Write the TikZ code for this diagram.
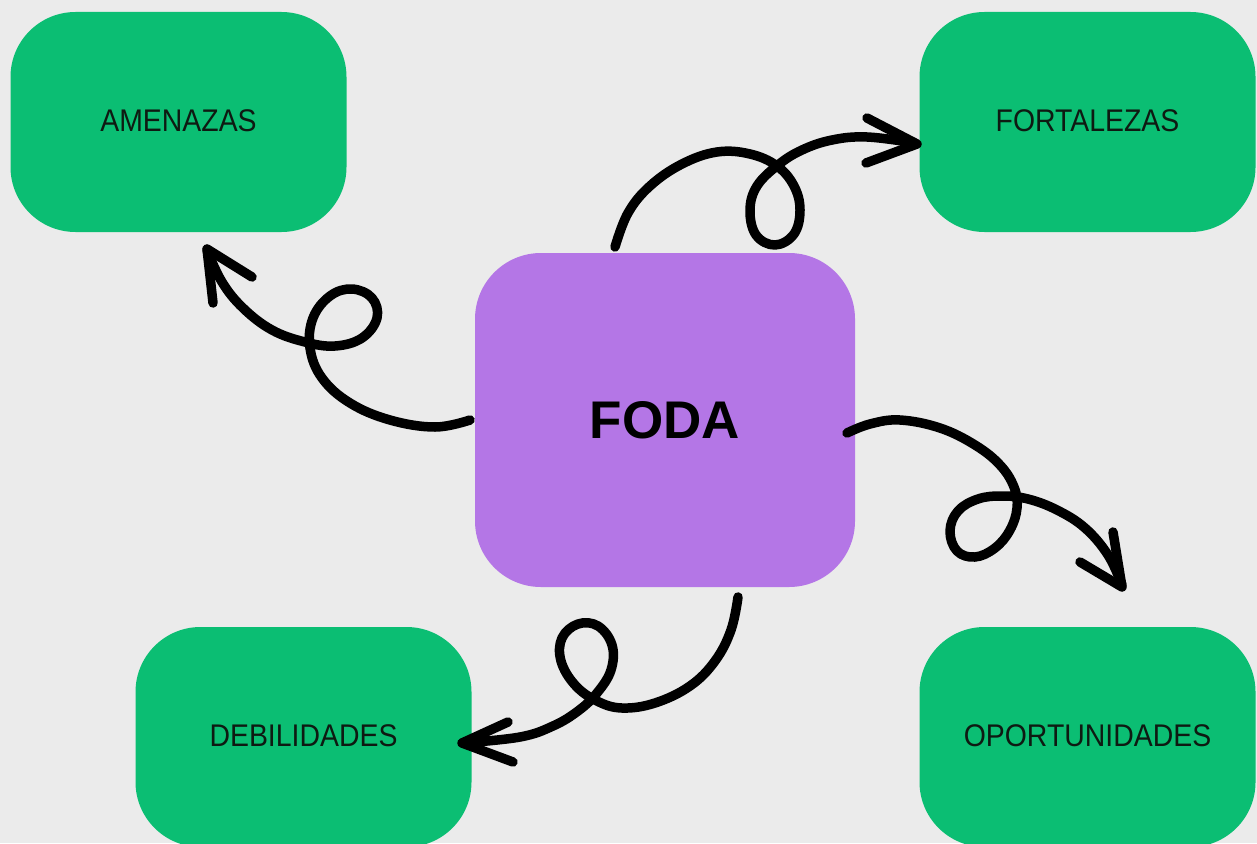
\documentclass[tikz,border=0pt]{standalone}
\usepackage{fontspec}
\usepackage{graphicx}
\setmainfont{Liberation Sans}
\definecolor{bg}{HTML}{EBEBEB}
\definecolor{boxgreen}{HTML}{0BBE73}
\definecolor{boxpurple}{HTML}{B476E6}
\definecolor{txt}{HTML}{0E1A12}
\newcommand{\lbl}[1]{\raisebox{3pt}{\scalebox{0.98}[1.08]{#1}}}
\begin{document}
\begin{tikzpicture}[x=1pt,y=-1pt,
  greenbox/.style={fill=boxgreen, draw=none, rounded corners=65pt, minimum width=336pt, minimum height=220pt, inner sep=0pt, text=txt, font=\fontsize{29}{34}\selectfont},
  centerbox/.style={fill=boxpurple, draw=none, rounded corners=66pt, minimum width=380pt, minimum height=334pt, inner sep=0pt, font=\fontsize{53}{60}\selectfont\bfseries},
  curly/.style={line width=9.5pt, line cap=round, line join=round, black},
  headstroke/.style={line width=9.5pt, line cap=round, line join=round, black}]
\useasboundingbox (0,0) rectangle (1257,843);
\clip (0,0) rectangle (1257,843);
\fill[bg] (0,0) rectangle (1257,843);

\node[greenbox] (amen) at (178.5,122) {\lbl{AMENAZAS}};
\node[greenbox] (fort) at (1087.5,122) {\lbl{FORTALEZAS}};
\node[greenbox] (debi) at (303.5,737) {\lbl{DEBILIDADES}};
\node[greenbox] (opor) at (1087.5,737) {\lbl{OPORTUNIDADES}};
\node[centerbox] (foda) at (665,420) {FODA};

% FODA -> AMENAZAS
\draw[curly] plot[smooth, tension=0.65] coordinates {(470,420) (435,427) (390,420) (350,403) (322,378) (310,348) (313,318) (330,296) (352,289) (372,298) (377,318) (362,338) (335,346) (305,342) (272,330) (243,308) (222,282) (207,250)};
\coordinate (t1) at (207,249);
\draw[headstroke] (213,303) -- (t1) -- (252,277);

% FODA -> FORTALEZAS
\draw[curly] plot[smooth, tension=0.65] coordinates {(615,247) (628,213) (650,186) (682,164) (717,152) (750,154) (777,166) (794,186) (800,210) (794,234) (775,245) (756,235) (750,210) (757,186) (778,165) (802,150) (832,140) (867,137) (915,143)};
\coordinate (t2) at (917,144);
\draw[headstroke] (867,118) -- (t2) -- (866,163);

% FODA -> OPORTUNIDADES
\draw[curly] plot[smooth, tension=0.65] coordinates {(847,433) (870,424) (900,420) (940,428) (975,445) (1000,465) (1014,487) (1017,508) (1010,530) (995,548) (975,557) (957,551) (950,531) (958,511) (978,499) (1002,496) (1028,499) (1057,510) (1085,528) (1108,555) (1122,585)};
\coordinate (t3) at (1122,587);
\draw[headstroke] (1113,532) -- (t3) -- (1080,562);

% FODA -> DEBILIDADES
\draw[curly] plot[smooth, tension=0.65] coordinates {(738,597) (731,630) (715,661) (690,686) (655,703) (622,708) (597,701) (575,685) (561,661) (562,638) (578,624) (598,626) (612,645) (611,670) (597,693) (578,711) (553,726) (520,737) (463,743)};
\coordinate (t4) at (462,743);
\draw[headstroke] (508,722) -- (t4) -- (513,762);
\end{tikzpicture}
\end{document}
